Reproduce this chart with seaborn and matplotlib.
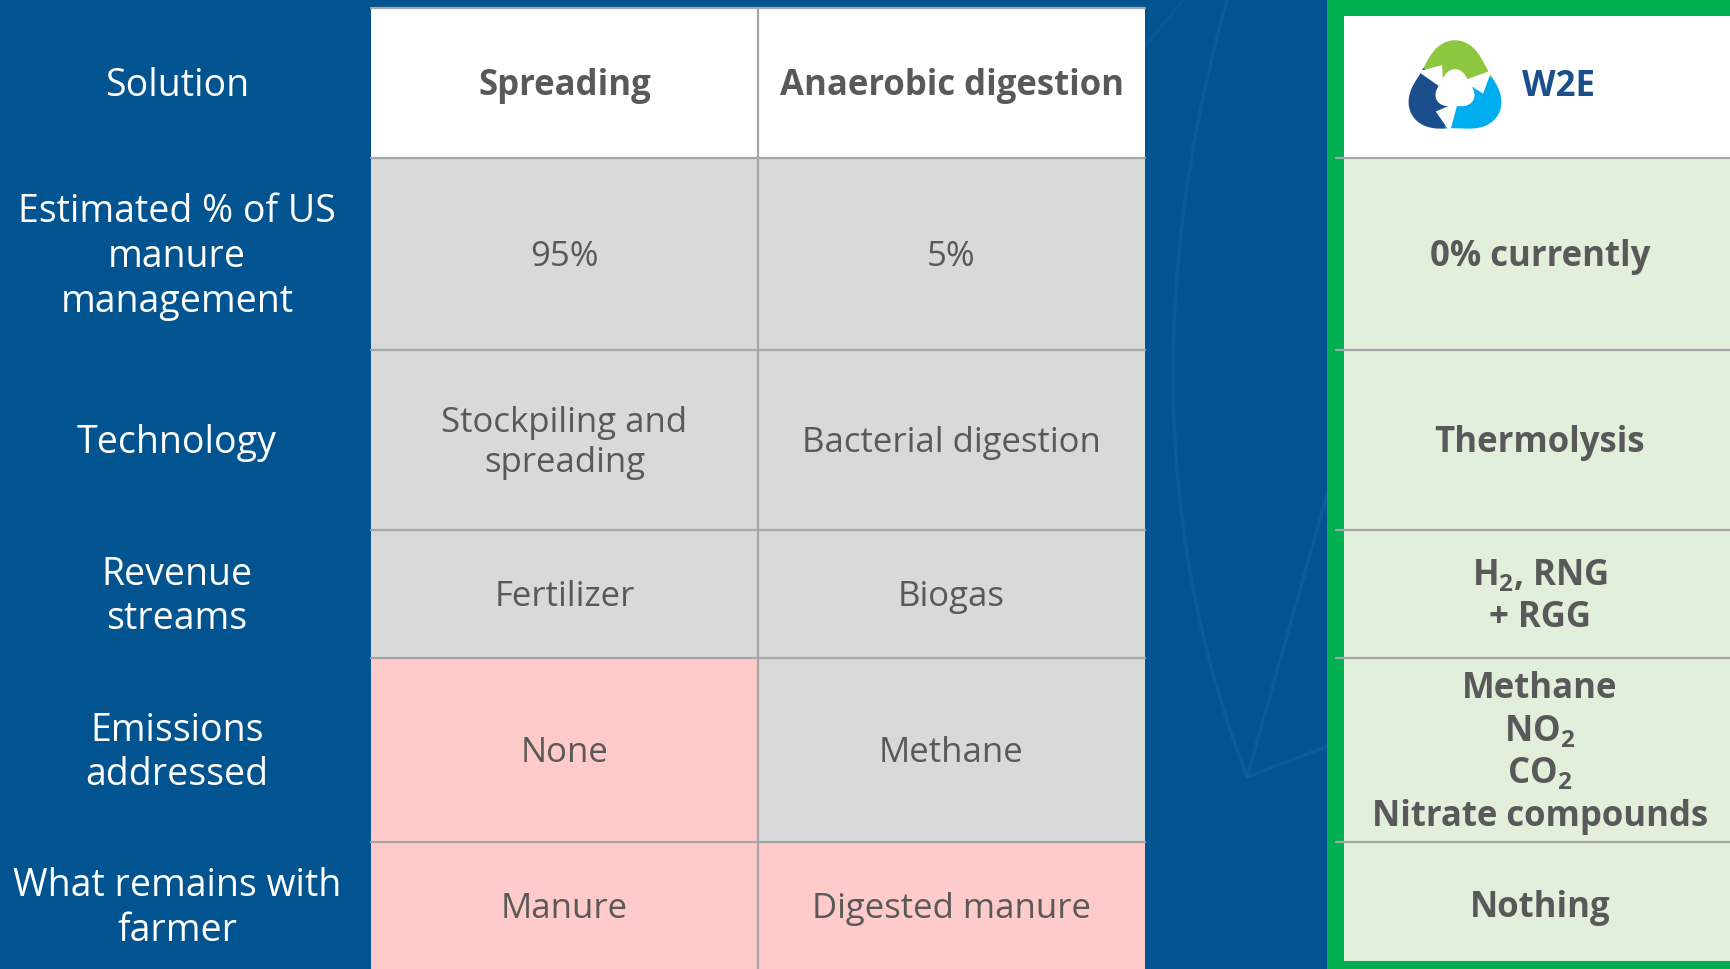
import numpy as np
import matplotlib.pyplot as plt
import seaborn as sns
from matplotlib.patches import Rectangle, Polygon

# table content
row_labels = ["Solution", "Estimated % of US\nmanure\nmanagement", "Technology",
              "Revenue\nstreams", "Emissions\naddressed", "What remains with\nfarmer"]
spreading = ["Spreading", "95%", "Stockpiling and\nspreading", "Fertilizer", "None", "Manure"]
anaerobic = ["Anaerobic digestion", "5%", "Bacterial digestion", "Biogas", "Methane",
             "Digested manure"]
w2e = ["W2E", "0% currently", "Thermolysis",
       r"H$_\mathbf{2}$, RNG" + "\n+ RGG",
       "Methane\n" + r"NO$_\mathbf{2}$" + "\n" + r"CO$_\mathbf{2}$" + "\nNitrate compounds",
       "Nothing"]
# cell shading: 0 = header, 1 = grey, 2 = red (problem not solved)
spreading_shade = [0, 1, 1, 1, 2, 2]
anaerobic_shade = [0, 1, 1, 1, 1, 2]

# colours
bg_blue = "#01548F"
shade_colors = {0: "white", 1: "#D9D9D9", 2: "#FFCACA"}
w2e_green = "#00B050"
w2e_fill = "#E2EFDA"
grid_gray = "#A6A6A6"
text_gray = "#595959"

# layout in pixels
row_edges = [8, 158, 350, 530, 658, 842, 969]
col_edges = [371, 758, 1145]
label_x = 177
box_x0, box_in = 1327, 1344
dy = 3  # text sits a touch below the row middle

sns.set_theme(style="white")
plt.rcParams["font.family"] = ["Open Sans", "DejaVu Sans"]
plt.rcParams["mathtext.fontset"] = "custom"
plt.rcParams["mathtext.rm"] = "Open Sans"
plt.rcParams["mathtext.bf"] = "Open Sans:bold"

fig = plt.figure(figsize=(17.3, 9.69), dpi=100)
fig.patch.set_facecolor(bg_blue)
ax = fig.add_axes([0, 0, 1, 1])
ax.set_xlim(0, 1730)
ax.set_ylim(969, 0)
ax.axis("off")

# faint background swoosh
arc_t = np.linspace(0, 1, 60)
arc_x = 1227 * (1 - arc_t) ** 2 + 2 * 1110 * arc_t * (1 - arc_t) + 1247 * arc_t ** 2
arc_y = 0 * (1 - arc_t) ** 2 + 2 * 420 * arc_t * (1 - arc_t) + 777 * arc_t ** 2
swoosh = dict(color="#1467A3", lw=2.5, alpha=0.45, zorder=0)
ax.plot(arc_x, arc_y, **swoosh)
ax.plot([1247, 1328], [777, 491], **swoosh)
ax.plot([1247, 1328], [777, 746], **swoosh)
ax.plot([1145, 1183], [46, 0], color="#1467A3", lw=2, alpha=0.3, zorder=0)

# row labels
for i, lab in enumerate(row_labels):
    yc = (row_edges[i] + row_edges[i + 1]) / 2 + dy
    ax.text(label_x, yc, lab, color="white", fontsize=27, ha="center", va="center",
            linespacing=1.23)

# spreading / anaerobic columns
for j, (col, shade) in enumerate([(spreading, spreading_shade), (anaerobic, anaerobic_shade)]):
    x0, x1 = col_edges[j], col_edges[j + 1]
    for i, txt in enumerate(col):
        y0, y1 = row_edges[i], row_edges[i + 1]
        ax.add_patch(Rectangle((x0, y0), x1 - x0, y1 - y0, facecolor=shade_colors[shade[i]],
                               edgecolor="none", zorder=1))
        ax.text((x0 + x1) / 2, (y0 + y1) / 2 + dy, txt, color=text_gray, ha="center",
                va="center", fontsize=25, fontweight="bold" if i == 0 else "normal",
                linespacing=1.22, zorder=3)
for y in row_edges[:-1]:
    ax.plot([col_edges[0], col_edges[-1]], [y, y], color=grid_gray, lw=1.6, zorder=2)
ax.plot([col_edges[1], col_edges[1]], [row_edges[0], row_edges[-1]], color=grid_gray,
        lw=1.6, zorder=2)

# W2E column with green frame
ax.add_patch(Rectangle((box_x0, 0), 1730 - box_x0, 969, facecolor=w2e_green,
                       edgecolor="none", zorder=1))
w2e_edges = [16] + row_edges[1:-1] + [961]
for i, txt in enumerate(w2e):
    y0, y1 = w2e_edges[i], w2e_edges[i + 1]
    ax.add_patch(Rectangle((box_in, y0), 1730 - box_in, y1 - y0,
                           facecolor="white" if i == 0 else w2e_fill, edgecolor="none", zorder=1))
    if i > 0:
        ax.text(1540, (row_edges[i] + row_edges[i + 1]) / 2 + dy, txt, color=text_gray,
                ha="center", va="center", fontsize=25, fontweight="bold", linespacing=1.25,
                zorder=3)
for y in row_edges[1:-1]:
    ax.plot([1336, 1730], [y, y], color=grid_gray, lw=1.6, zorder=2)

# header: logo + name
ax.text(1522, 87, w2e[0], color="#1A4F8B", ha="left", va="center", fontsize=25,
        fontweight="bold", zorder=3)

cx, cy, R = 1455, 90, 44


def shape_r(t, scale=1.0):
    return scale * R * (1 + 0.13 * np.cos(3 * (t - np.pi / 2)))


for a, b, c in [(20, 145, "#8DC63F"), (-105, 20, "#00AEEF"), (145, 255, "#1B4F8C")]:
    t = np.radians(np.linspace(a, b, 80))
    ro, ri = shape_r(t), shape_r(t, 0.4)
    xs = np.concatenate([cx + ro * np.cos(t), (cx + ri * np.cos(t))[::-1]])
    ys = np.concatenate([cy - ro * np.sin(t), (cy - ri * np.sin(t))[::-1]])
    ax.add_patch(Polygon(np.column_stack([xs, ys]), closed=True, facecolor=c,
                         edgecolor="none", zorder=2))
# white centre with three arrow heads pointing clockwise
t = np.linspace(0, 2 * np.pi, 120)
rc = shape_r(t, 0.42)
ax.add_patch(Polygon(np.column_stack([cx + rc * np.cos(t), cy - rc * np.sin(t)]),
                     closed=True, facecolor="white", edgecolor="none", zorder=3))
for ang in [20, -105, 145]:
    t = np.radians(ang)
    rm = shape_r(t, 0.62)
    px, py = cx + rm * np.cos(t), cy - rm * np.sin(t)
    tang = t - np.pi / 2
    nx, ny = np.cos(t), -np.sin(t)
    tx, ty = np.cos(tang), -np.sin(tang)
    pts = [(px + 17 * nx - 6 * tx, py + 17 * ny - 6 * ty),
           (px - 14 * nx - 6 * tx, py - 14 * ny - 6 * ty),
           (px + 1 * nx + 13 * tx, py + 1 * ny + 13 * ty)]
    ax.add_patch(Polygon(pts, closed=True, facecolor="white", edgecolor="none", zorder=3))

fig.savefig("out.png", dpi=100, facecolor=fig.get_facecolor())
